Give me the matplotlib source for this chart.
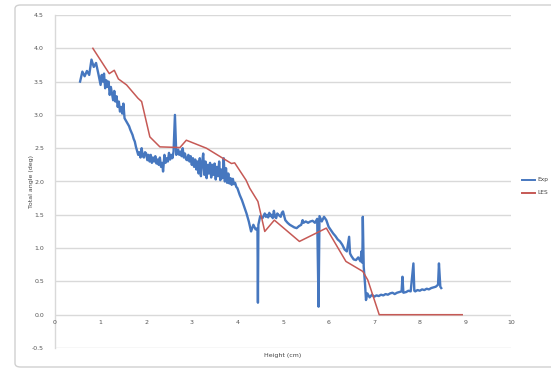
import matplotlib
matplotlib.use("Agg")
import matplotlib.pyplot as plt
from matplotlib.patches import FancyBboxPatch
from matplotlib.lines import Line2D

# ---------------- data ----------------
# Experiment series (height cm, total angle deg)
exp_points = [
    (0.55, 3.50), (0.60, 3.65), (0.65, 3.58), (0.70, 3.66), (0.75, 3.60), (0.80, 3.83),
    (0.85, 3.72), (0.90, 3.78), (0.95, 3.62), (1.000, 3.45), (1.025, 3.60), (1.050, 3.50),
    (1.075, 3.62), (1.100, 3.40), (1.125, 3.52), (1.150, 3.42), (1.175, 3.50), (1.200, 3.30),
    (1.225, 3.42), (1.250, 3.32), (1.275, 3.22), (1.300, 3.36), (1.325, 3.20), (1.350, 3.28),
    (1.375, 3.12), (1.400, 3.20), (1.425, 3.05), (1.450, 3.12), (1.475, 3.02), (1.500, 3.17),
    (1.525, 2.95), (1.55, 2.92), (1.60, 2.86), (1.625, 2.83), (1.65, 2.78), (1.675, 2.74),
    (1.70, 2.70), (1.725, 2.64), (1.75, 2.60), (1.775, 2.52), (1.80, 2.46), (1.825, 2.40),
    (1.85, 2.44), (1.875, 2.36), (1.90, 2.50), (1.925, 2.38), (1.95, 2.36), (1.975, 2.44),
    (2.000, 2.42), (2.025, 2.32), (2.050, 2.40), (2.075, 2.30), (2.100, 2.40), (2.125, 2.28),
    (2.150, 2.36), (2.175, 2.30), (2.200, 2.38), (2.225, 2.27), (2.250, 2.33), (2.275, 2.25),
    (2.300, 2.36), (2.325, 2.22), (2.350, 2.28), (2.370, 2.15), (2.400, 2.40), (2.425, 2.28),
    (2.450, 2.35), (2.475, 2.30), (2.500, 2.43), (2.525, 2.33), (2.550, 2.40), (2.575, 2.35),
    (2.600, 2.45), (2.630, 3.00), (2.660, 2.40), (2.70, 2.48), (2.725, 2.40), (2.75, 2.45),
    (2.775, 2.38), (2.80, 2.50), (2.825, 2.36), (2.85, 2.42), (2.875, 2.33),
    (2.900, 2.32), (2.925, 2.40), (2.950, 2.30), (2.975, 2.38), (3.000, 2.25), (3.025, 2.35),
    (3.050, 2.22), (3.075, 2.33), (3.100, 2.18), (3.125, 2.30), (3.150, 2.12), (3.175, 2.35),
    (3.200, 2.08), (3.225, 2.28), (3.250, 2.42), (3.275, 2.10), (3.300, 2.30), (3.325, 2.05),
    (3.350, 2.25), (3.375, 2.12), (3.400, 2.28), (3.425, 2.06), (3.450, 2.25), (3.475, 2.10),
    (3.500, 2.27), (3.525, 2.03), (3.550, 2.22), (3.575, 2.08), (3.600, 2.30), (3.625, 2.02),
    (3.650, 2.18), (3.675, 2.05), (3.700, 2.35), (3.725, 2.00), (3.750, 2.20), (3.775, 1.98),
    (3.800, 2.12), (3.825, 1.97), (3.850, 2.05), (3.875, 1.95), (3.900, 2.04), (3.925, 1.96),
    (3.950, 1.98), (3.975, 1.92), (4.00, 1.90), (4.05, 1.80), (4.10, 1.72), (4.15, 1.62),
    (4.20, 1.52), (4.25, 1.40), (4.30, 1.25), (4.35, 1.35), (4.40, 1.28), (4.44, 1.30),
    (4.45, 0.18), (4.46, 1.35), (4.50, 1.48), (4.55, 1.45), (4.60, 1.52), (4.625, 1.47),
    (4.65, 1.50), (4.675, 1.46), (4.70, 1.53), (4.725, 1.48), (4.75, 1.50), (4.775, 1.45),
    (4.80, 1.56), (4.825, 1.47), (4.85, 1.45), (4.875, 1.52), (4.90, 1.50), (4.95, 1.47),
    (4.975, 1.53), (5.00, 1.55), (5.05, 1.42), (5.10, 1.38), (5.15, 1.35), (5.20, 1.33),
    (5.25, 1.31), (5.30, 1.30), (5.35, 1.33), (5.40, 1.35), (5.43, 1.42), (5.45, 1.38),
    (5.50, 1.40), (5.55, 1.38), (5.60, 1.40), (5.65, 1.41), (5.70, 1.38), (5.75, 1.44),
    (5.78, 0.12), (5.80, 1.48), (5.85, 1.40), (5.90, 1.47), (5.95, 1.42), (6.00, 1.32),
    (6.05, 1.27), (6.10, 1.22), (6.15, 1.18), (6.20, 1.13), (6.25, 1.10), (6.30, 1.05),
    (6.35, 0.98), (6.40, 0.95), (6.45, 1.17), (6.47, 0.92), (6.50, 0.88), (6.55, 0.83),
    (6.60, 0.82), (6.65, 0.86), (6.70, 0.80), (6.72, 0.95), (6.74, 0.78), (6.75, 1.47),
    (6.77, 0.72), (6.80, 0.45), (6.82, 0.22), (6.85, 0.32), (6.90, 0.26), (6.95, 0.30),
    (7.00, 0.27), (7.05, 0.29), (7.10, 0.28), (7.15, 0.30), (7.20, 0.29), (7.25, 0.31),
    (7.30, 0.30), (7.35, 0.32), (7.40, 0.33), (7.45, 0.31), (7.50, 0.33), (7.55, 0.34),
    (7.60, 0.35), (7.62, 0.57), (7.64, 0.33), (7.70, 0.34), (7.75, 0.36), (7.80, 0.35),
    (7.86, 0.77), (7.88, 0.36), (7.90, 0.35), (7.95, 0.37), (8.00, 0.36), (8.05, 0.38),
    (8.10, 0.37), (8.15, 0.39), (8.20, 0.38), (8.25, 0.40), (8.30, 0.41), (8.35, 0.42),
    (8.40, 0.45), (8.42, 0.77), (8.45, 0.42), (8.47, 0.40),
]

les_x = [0.83, 1.19, 1.30, 1.39, 1.57, 1.82, 1.90, 2.08, 2.30, 2.74, 2.88, 3.32, 3.87,
         3.94, 4.19, 4.27, 4.45, 4.60, 4.81, 5.36, 5.95, 6.38, 6.75, 6.86, 7.11, 8.93]
les_y = [4.00, 3.62, 3.67, 3.54, 3.45, 3.25, 3.20, 2.67, 2.52, 2.51, 2.62, 2.50, 2.27,
         2.28, 2.02, 1.90, 1.70, 1.25, 1.42, 1.10, 1.30, 0.80, 0.65, 0.52, 0.00, 0.00]

x_ticks = [0, 1, 2, 3, 4, 5, 6, 7, 8, 9, 10]
y_ticks = [-0.5, 0.0, 0.5, 1.0, 1.5, 2.0, 2.5, 3.0, 3.5, 4.0, 4.5]
series_names = ["Exp", "LES"]

exp_x = [p[0] for p in exp_points]
exp_y = [p[1] for p in exp_points]

BLUE = "#4677bf"
RED = "#c65955"
GRID = "#d9d9d9"
TXT = "#555555"

# ---------------- figure ----------------
W, H = 551, 369
fig = plt.figure(figsize=(W / 100, H / 100), dpi=100)
fig.patch.set_facecolor("white")

border = FancyBboxPatch((15 / W, 1 - 367 / H), 1.2, (367 - 5) / H,
                        boxstyle="round,pad=0,rounding_size=0.01",
                        transform=fig.transFigure, fill=False,
                        edgecolor="#d0d0d0", linewidth=1.0)
fig.patches.append(border)

ax = fig.add_axes([55 / W, 1 - 348 / H, (511 - 55) / W, (348 - 15) / H])
ax.set_xlim(0, 10)
ax.set_ylim(-0.5, 4.5)

for yv in y_ticks:
    ax.axhline(yv, color=GRID, lw=1.0, zorder=0)

for s in ["top", "right", "bottom"]:
    ax.spines[s].set_visible(False)
ax.spines["left"].set_color(GRID)
ax.spines["left"].set_linewidth(1.0)

ax.set_yticks(y_ticks)
ax.set_yticklabels([f"{v:.1f}" for v in y_ticks], fontsize=4.5, color=TXT)
ax.set_xticks(x_ticks)
ax.set_xticklabels([])
ax.tick_params(axis="both", length=0, pad=8)
for xv in x_ticks:
    ax.text(xv, -0.12, str(xv), ha="center", va="center", fontsize=4.5, color=TXT)

ax.plot(exp_x, exp_y, color=BLUE, lw=1.7, zorder=3, label=series_names[0])
ax.plot(les_x, les_y, color=RED, lw=1.1, zorder=4, label=series_names[1])

fig.text(283 / W, 1 - 355 / H, "Height (cm)", ha="center", va="center",
         fontsize=4.5, color="#444444")
fig.text(31 / W, 1 - 182 / H, "Total angle (deg)", ha="center", va="center",
         rotation=90, fontsize=4.5, color="#444444")

for i, (name, col) in enumerate(zip(series_names, [BLUE, RED])):
    yy = 1 - (180 + 13 * i) / H
    fig.add_artist(Line2D([522 / W, 535 / W], [yy, yy], color=col, lw=1.4,
                          transform=fig.transFigure))
    fig.text(537 / W, yy, name, ha="left", va="center", fontsize=4.2, color="#444444")

fig.savefig("out.png", dpi=100)
